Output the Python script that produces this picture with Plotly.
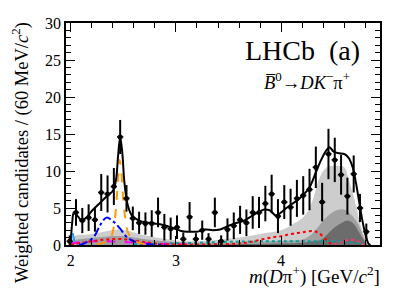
import plotly.graph_objects as go

# ---------------- data ----------------
data_x = [1.99 + 0.06 * k for k in range(48)]
data_y = [0.5, 4.4, 3.3, 3.7, 3.4, 7.1, 6.9, 7.9, 14.6, 6.3,
          3.6, 3.0, 2.9, 2.9, 4.4, 2.4, 2.2, 2.4, 0.8, 3.8,
          0.8, 2.0, 0.8, 4.4, 0.5, 2.1, 2.6, 3.4, 3.0, 4.4,
          4.4, 5.6, 6.9, 3.9, 5.8, 5.1, 6.3, 6.7, 7.5, 10.5,
          5.8, 12.3, 11.5, 9.5, 6.6, 9.6, 5.0, 1.8]
data_err = [0.8, 1.8, 1.7, 1.8, 1.6, 2.5, 2.5, 2.5, 2.3, 1.8,
            1.6, 1.5, 1.5, 1.8, 2.0, 1.8, 1.5, 1.6, 0.9, 2.0,
            0.8, 1.3, 0.8, 2.0, 0.8, 1.5, 1.8, 1.9, 1.8, 2.2,
            2.1, 2.4, 2.6, 2.3, 2.3, 2.5, 2.5, 2.6, 2.8, 2.8,
            2.6, 3.4, 3.0, 2.7, 2.5, 2.5, 1.9, 1.1]

fit_x = [1.995, 2.005, 2.015, 2.03, 2.06, 2.10, 2.15, 2.20, 2.25, 2.30, 2.35, 2.40,
         2.43, 2.45, 2.47, 2.49, 2.51, 2.54, 2.58, 2.65, 2.75, 2.85, 2.95, 3.05,
         3.12, 3.20, 3.28, 3.35, 3.42, 3.50, 3.58, 3.65, 3.72, 3.78, 3.84, 3.89,
         3.95, 4.00, 4.05, 4.10, 4.16, 4.22, 4.27, 4.33, 4.38, 4.43, 4.46, 4.50,
         4.55, 4.60, 4.64, 4.68, 4.71, 4.74, 4.77, 4.80, 4.83, 4.85]
fit_y = [0.0, 1.5, 3.2, 4.4, 4.0, 3.4, 3.7, 4.6, 5.3, 6.0, 6.7, 7.3,
         8.8, 12.0, 14.6, 12.5, 8.5, 5.5, 4.0, 3.3, 3.0, 2.8, 2.4, 1.9,
         1.8, 1.8, 2.1, 2.0, 2.1, 2.6, 3.0, 3.3, 3.9, 4.4, 4.8, 4.7,
         4.0, 4.4, 5.0, 5.5, 6.1, 6.9, 7.8, 9.8, 11.5, 12.8, 13.2, 12.6,
         12.4, 12.3, 11.8, 10.5, 8.5, 6.0, 3.5, 1.5, 0.2, 0.0]

light_x = [1.99, 2.01, 2.05, 2.15, 2.25, 2.35, 2.45, 2.55, 2.65, 2.75, 2.85, 2.95,
           3.05, 3.20, 3.40, 3.60, 3.80, 4.00, 4.10, 4.20, 4.25, 4.30, 4.35, 4.40,
           4.45, 4.50, 4.55, 4.60, 4.65, 4.70, 4.75, 4.80, 4.83]
light_y = [0.0, 0.8, 1.3, 1.4, 1.6, 1.9, 2.1, 1.9, 1.5, 1.2, 0.9, 0.7,
           0.55, 0.5, 0.7, 1.0, 1.5, 2.0, 2.7, 3.6, 4.5, 6.0, 8.5, 10.0,
           10.6, 10.7, 10.7, 10.5, 8.5, 6.0, 3.0, 0.8, 0.0]

mid_x = [1.99, 2.02, 2.10, 2.25, 2.40, 2.50, 2.60, 2.75, 2.90, 3.10, 3.40, 3.70,
         3.90, 4.10, 4.22, 4.30, 4.35, 4.42, 4.51, 4.60, 4.66, 4.73, 4.78, 4.82]
mid_y = [0.0, 0.6, 0.8, 1.0, 1.2, 1.2, 1.0, 0.7, 0.5, 0.35, 0.3, 0.4,
         0.5, 0.6, 0.8, 1.6, 2.4, 3.6, 4.6, 4.8, 4.2, 2.9, 1.2, 0.0]

dark_x = [3.00, 3.50, 4.00, 4.20, 4.30, 4.38, 4.45, 4.51, 4.58, 4.63, 4.68, 4.73, 4.78, 4.82]
dark_y = [0.0, 0.1, 0.2, 0.3, 0.5, 0.7, 1.6, 2.4, 3.0, 3.3, 3.0, 2.0, 0.8, 0.0]

d2_x = [2.25, 2.33, 2.38, 2.41, 2.43, 2.45, 2.465, 2.48, 2.50, 2.52, 2.55, 2.60, 2.68, 2.80]
d2_y = [0.1, 0.4, 1.0, 2.5, 5.0, 9.0, 11.5, 10.0, 6.0, 3.5, 1.5, 0.6, 0.2, 0.05]

d0_x = [2.08, 2.14, 2.22, 2.28, 2.34, 2.41, 2.47, 2.53, 2.60, 2.75, 2.90]
d0_y = [0.0, 0.3, 1.1, 2.7, 3.7, 3.1, 2.2, 1.1, 0.5, 0.1, 0.0]

dst_x = [1.995, 2.005, 2.015, 2.025, 2.04, 2.06]
dst_y = [0.0, 1.0, 2.0, 1.2, 0.3, 0.0]

red_x = [2.00, 2.10, 2.20, 2.30, 2.40, 2.50, 2.60, 2.70, 2.80, 2.90, 3.10, 3.40,
         3.60, 3.70, 3.80, 3.90, 4.00, 4.10, 4.20, 4.30, 4.36, 4.42, 4.46, 4.50]
red_y = [0.0, 0.3, 0.5, 0.7, 0.8, 0.8, 0.6, 0.4, 0.2, 0.1, 0.05, 0.1,
         0.2, 0.4, 0.7, 1.0, 1.2, 1.5, 1.7, 1.9, 1.6, 0.8, 0.3, 0.1]

pink_x = [4.50, 4.58, 4.65, 4.72, 4.76, 4.80]
pink_y = [0.05, 0.4, 0.7, 0.6, 0.2, 0.0]

mag_x = [2.00, 2.10, 2.20, 2.35, 2.50, 2.65, 2.80, 3.00, 3.20]
mag_y = [0.2, 0.4, 0.5, 0.5, 0.4, 0.3, 0.2, 0.1, 0.05]

teal_x = [2.60, 2.90, 3.20, 3.40, 3.60, 3.80, 4.00, 4.20, 4.40, 4.60, 4.75, 4.80]
teal_y = [0.1, 0.2, 0.3, 0.4, 0.45, 0.5, 0.5, 0.5, 0.5, 0.45, 0.2, 0.0]

x_ticks = [2, 3, 4]
y_ticks = [0, 5, 10, 15, 20, 25, 30]

# ---------------- figure ----------------
SERIF = "Liberation Serif"
fig = go.Figure()

def area(x, y, color):
    fig.add_trace(go.Scatter(x=x, y=y, mode="lines", fill="tozeroy",
                             line=dict(color=color, width=0, shape="spline"),
                             fillcolor=color, hoverinfo="skip"))

area(light_x, light_y, "#cdcdcd")
area(mid_x, mid_y, "#a0a0a0")
area(dark_x, dark_y, "#6c6c6c")

def comp(x, y, color, dash, width=2):
    fig.add_trace(go.Scatter(x=x, y=y, mode="lines",
                             line=dict(color=color, width=width, dash=dash, shape="spline"),
                             hoverinfo="skip"))

comp(teal_x, teal_y, "#00a0a0", "dot")
comp(mag_x, mag_y, "#ff00ff", "dash")
comp(red_x, red_y, "#ff0000", "dot")
comp(pink_x, pink_y, "#ff3366", "dot")
comp(d0_x, d0_y, "#0000ff", "dashdot")
comp(dst_x, dst_y, "#3399ff", "dash")
comp(d2_x, d2_y, "#ff9900", "dash")

fig.add_trace(go.Scatter(x=fit_x, y=fit_y, mode="lines",
                         line=dict(color="black", width=2, shape="spline"),
                         hoverinfo="skip"))

fig.add_trace(go.Scatter(x=data_x, y=data_y, mode="markers",
                         marker=dict(color="black", size=5),
                         error_y=dict(type="data", array=data_err, color="black",
                                      thickness=2, width=0),
                         error_x=dict(type="constant", value=0.03, color="black",
                                      thickness=1.5, width=0),
                         hoverinfo="skip"))

axis_common = dict(showline=True, linecolor="black", linewidth=1.5, mirror="ticks",
                   ticks="inside", ticklen=9, tickwidth=1, tickcolor="black",
                   showgrid=False, zeroline=False,
                   tickfont=dict(family=SERIF, size=16, color="black"))

# page body adds an 8px offset, so the figure is 8px smaller with shifted margins
fig.update_layout(
    width=402, height=286,
    margin=dict(l=58, r=30, t=7, b=49),
    paper_bgcolor="white", plot_bgcolor="white",
    showlegend=False,
    xaxis=dict(range=[1.955, 4.94], tickvals=x_ticks, ticktext=[str(v) for v in x_ticks],
               minor=dict(dtick=0.2, tick0=2, ticks="inside", ticklen=5, tickcolor="black"),
               **axis_common),
    yaxis=dict(range=[0, 30], tickvals=y_ticks, ticktext=[str(v) for v in y_ticks],
               minor=dict(dtick=1, ticks="inside", ticklen=5, tickcolor="black"),
               **axis_common),
)

fig.add_annotation(text="Weighted candidates / (60 MeV/<i>c</i><sup>2</sup>)",
                   xref="paper", yref="paper", x=-0.143, y=0.415,
                   xanchor="center", yanchor="middle", textangle=-90, showarrow=False,
                   font=dict(family=SERIF, size=18.5, color="black"))
fig.add_annotation(text="<i>m</i>(<i>D</i>π<sup>+</sup>) [GeV/<i>c</i><sup>2</sup>]",
                   xref="paper", yref="paper", x=1.006, y=-0.138,
                   xanchor="right", yanchor="middle", showarrow=False,
                   font=dict(family=SERIF, size=19, color="black"))
fig.add_annotation(text="LHCb&nbsp;&nbsp;(a)",
                   xref="paper", yref="paper", x=0.943, y=0.874,
                   xanchor="right", yanchor="middle", showarrow=False,
                   font=dict(family=SERIF, size=28, color="black"))
fig.add_annotation(text="<i>B̅</i><sup>0</sup>→<i>DK</i><sup>−</sup>π<sup>+</sup>",
                   xref="paper", yref="paper", x=0.624, y=0.74,
                   xanchor="left", yanchor="middle", showarrow=False,
                   font=dict(family=SERIF, size=18.5, color="black"))

fig.write_html("out.html")
